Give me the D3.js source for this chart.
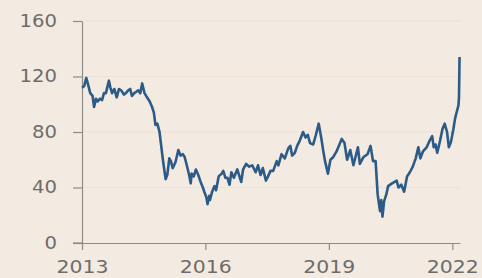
<!DOCTYPE html>
<html>
<head>
<meta charset="utf-8">
<script src="https://cdn.jsdelivr.net/npm/d3@7"></script>
<style>
  html, body { margin: 0; padding: 0; background: #f3ebe1; }
  svg { display: block; }
</style>
</head>
<body>
<div id="chart"></div>
<script>
// price series
var dates = [
  "2013-01-01","2013-01-20","2013-02-08","2013-02-25","2013-03-15","2013-04-05","2013-04-18","2013-05-05",
  "2013-05-20","2013-06-10","2013-06-28","2013-07-15","2013-08-01","2013-08-28","2013-09-10","2013-09-25",
  "2013-10-15","2013-11-05","2013-11-25","2013-12-15","2014-01-08","2014-01-25","2014-02-15","2014-03-05",
  "2014-03-20","2014-04-10","2014-04-28","2014-05-15","2014-06-02","2014-06-19","2014-07-10","2014-08-01",
  "2014-08-25","2014-09-15","2014-10-01","2014-10-15","2014-11-01","2014-11-20","2014-12-05","2014-12-20",
  "2015-01-13","2015-01-28","2015-02-15","2015-03-01","2015-03-17","2015-04-10","2015-05-06","2015-05-25",
  "2015-06-15","2015-07-01","2015-07-20","2015-08-10","2015-08-24","2015-09-01","2015-09-20","2015-10-09",
  "2015-10-30","2015-11-20","2015-12-10","2015-12-22","2016-01-10","2016-01-20","2016-02-05","2016-02-11",
  "2016-03-01","2016-03-22","2016-04-05","2016-04-28","2016-05-25","2016-06-08","2016-06-27","2016-07-15",
  "2016-08-02","2016-08-19","2016-09-10","2016-10-10","2016-11-14","2016-12-01","2016-12-28","2017-01-25",
  "2017-02-20","2017-03-22","2017-04-12","2017-05-05","2017-05-25","2017-06-21","2017-07-10","2017-08-01",
  "2017-08-25","2017-09-25","2017-10-10","2017-11-07","2017-12-06","2018-01-05","2018-01-24","2018-02-09",
  "2018-03-05","2018-03-26","2018-04-19","2018-05-17","2018-06-08","2018-06-28","2018-07-18","2018-08-15",
  "2018-09-05","2018-10-03","2018-10-25","2018-11-13","2018-11-28","2018-12-24","2019-01-15","2019-02-10",
  "2019-03-10","2019-04-25","2019-05-20","2019-06-12","2019-07-10","2019-08-07","2019-09-16","2019-10-03",
  "2019-11-05","2019-12-10","2020-01-06","2020-01-28","2020-02-20","2020-03-09","2020-03-30","2020-04-10",
  "2020-04-21","2020-05-05","2020-05-25","2020-06-10","2020-07-15","2020-08-25","2020-09-10","2020-10-05",
  "2020-10-30","2020-11-25","2020-12-20","2021-01-15","2021-02-10","2021-03-05","2021-03-23","2021-04-15",
  "2021-05-18","2021-06-15","2021-07-06","2021-07-20","2021-08-05","2021-08-20","2021-09-15","2021-10-05",
  "2021-10-25","2021-11-15","2021-12-01","2021-12-20","2022-01-10","2022-01-26","2022-02-14","2022-02-24",
  "2022-03-01","2022-03-06"
];
var prices = [
  112,113,119,114,108,106,98,104,
  102,104,103,108,108,117,112,108,
  111,105,111,110,107,108,110,111,
  106,108,109,110,108,115,108,105,
  102,98,94,85,86,80,70,60,
  46,49,61,59,54,58,67,63,
  64,62,56,49,43,50,48,53,
  49,44,40,37,33,28,34,31,
  37,41,38,48,50,52,47,47,
  42,51,47,53,44,53,57,55,
  56,51,56,49,54,45,48,52,
  52,59,56,64,61,68,70,63,
  65,70,74,80,76,78,72,71,
  77,86,76,66,59,50,60,62,
  66,75,72,60,67,56,69,57,
  62,64,70,59,59,35,23,31,
  19,30,35,41,43,45,40,42,
  37,48,51,55,61,69,61,66,
  69,74,77,69,71,65,74,82,
  86,80,69,73,82,90,96,99,
  105,134
];
var yTicks = [0, 40, 80, 120, 160];
var xTickYears = ["2013", "2016", "2019", "2022"];

var W = 482, H = 278;
var parse = d3.timeParse("%Y-%m-%d");
var data = dates.map(function(d, i) { return { date: parse(d), value: prices[i] }; });

var svg = d3.select("#chart").append("svg")
  .attr("width", W)
  .attr("height", H);

svg.append("rect").attr("width", W).attr("height", H).attr("fill", "#f3ebe1");

var x = d3.scaleTime()
  .domain([parse("2013-01-01"), parse("2022-03-10")])
  .range([82, 460]);
var y = d3.scaleLinear()
  .domain([0, 160])
  .range([243, 21]);

// faint gridlines
svg.append("g").selectAll("line")
  .data(yTicks.slice(1))
  .enter().append("line")
  .attr("x1", 82).attr("x2", 460)
  .attr("y1", function(d) { return y(d); })
  .attr("y2", function(d) { return y(d); })
  .attr("stroke", "#ebe1d5")
  .attr("stroke-width", 1);

var textColor = "#6e6c6a", axisColor = "#8f8b86";
var font = "'DejaVu Sans', sans-serif";

var yAxis = svg.append("g")
  .attr("transform", "translate(82,0)")
  .call(d3.axisLeft(y).tickValues(yTicks).tickSize(9).tickSizeOuter(0).tickPadding(16));
yAxis.selectAll("text")
  .attr("fill", textColor)
  .style("font-family", font)
  .style("font-size", "17px")
  .attr("textLength", function(d) { return String(d).length * 12.5; })
  .attr("lengthAdjust", "spacingAndGlyphs");

var xAxis = svg.append("g")
  .attr("transform", "translate(0,243)")
  .call(d3.axisBottom(x)
    .tickValues(xTickYears.map(function(t) { return d3.timeParse("%Y")(t); }))
    .tickFormat(d3.timeFormat("%Y"))
    .tickSize(7).tickSizeOuter(0).tickPadding(10));
xAxis.selectAll("text")
  .attr("fill", textColor)
  .style("font-family", font)
  .style("font-size", "18px")
  .attr("textLength", 52)
  .attr("lengthAdjust", "spacingAndGlyphs");

svg.selectAll(".domain, .tick line")
  .attr("stroke", axisColor)
  .attr("stroke-width", 1.2);

// extend x domain line left to meet the 0 tick
svg.append("line")
  .attr("x1", 73).attr("x2", 82)
  .attr("y1", y(0)).attr("y2", y(0))
  .attr("stroke", axisColor).attr("stroke-width", 1.2);

var line = d3.line()
  .x(function(d) { return x(d.date); })
  .y(function(d) { return y(d.value); })
  .curve(d3.curveLinear);

svg.append("path")
  .datum(data)
  .attr("fill", "none")
  .attr("stroke", "#2d5b88")
  .attr("stroke-width", 2.6)
  .attr("stroke-linejoin", "round")
  .attr("d", line);
</script>
</body>
</html>
